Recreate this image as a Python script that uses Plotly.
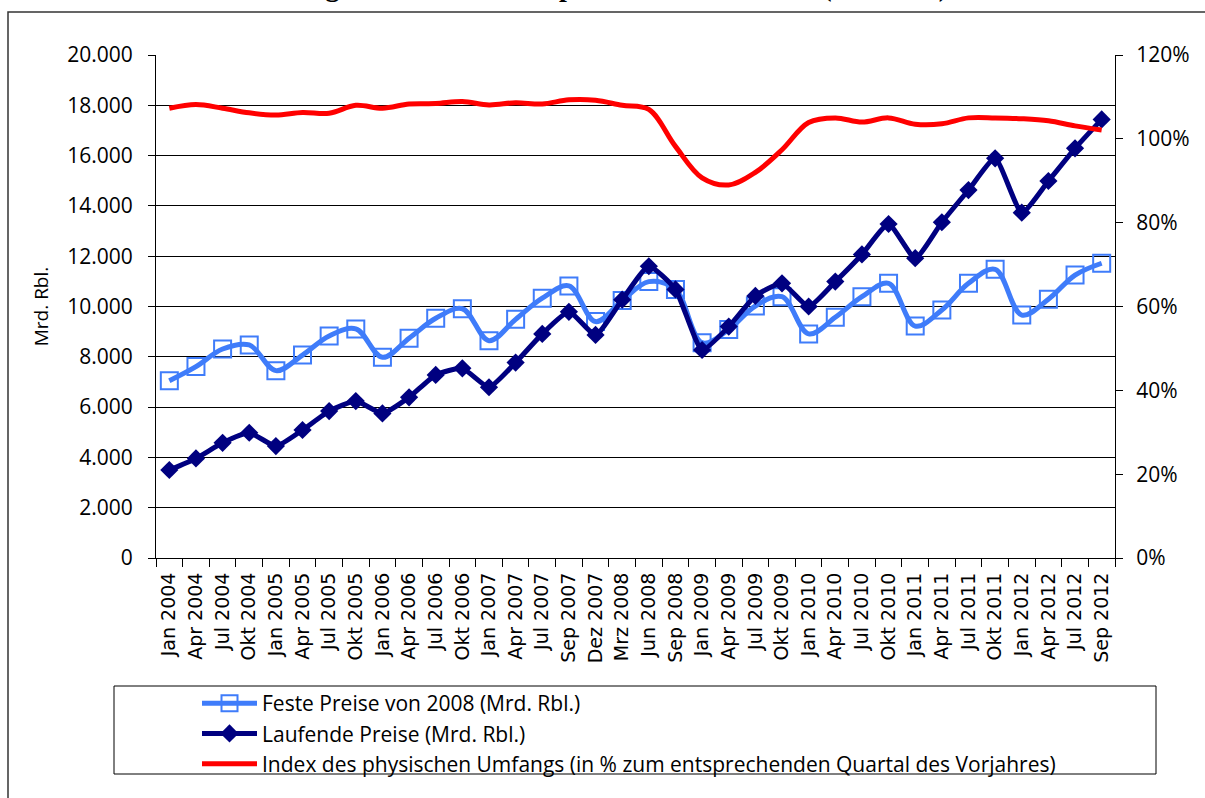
import plotly.graph_objects as go

categories = ["Jan 2004", "Apr 2004", "Jul 2004", "Okt 2004", "Jan 2005", "Apr 2005", "Jul 2005", "Okt 2005",
              "Jan 2006", "Apr 2006", "Jul 2006", "Okt 2006", "Jan 2007", "Apr 2007", "Jul 2007", "Sep 2007",
              "Dez 2007", "Mrz 2008", "Jun 2008", "Sep 2008", "Jan 2009", "Apr 2009", "Jul 2009", "Okt 2009",
              "Jan 2010", "Apr 2010", "Jul 2010", "Okt 2010", "Jan 2011", "Apr 2011", "Jul 2011", "Okt 2011",
              "Jan 2012", "Apr 2012", "Jul 2012", "Sep 2012"]

feste_preise = [7050, 7610, 8310, 8470, 7450, 8070, 8830, 9110, 7980, 8740, 9530, 9910, 8640, 9490, 10330, 10820,
                9400, 10240, 10990, 10680, 8560, 9090, 10020, 10390, 8910, 9570, 10390, 10920, 9220, 9860, 10920,
                11480, 9660, 10290, 11250, 11720]

laufende_preise = [3500, 3960, 4580, 4980, 4450, 5090, 5840, 6240, 5750, 6390, 7280, 7540, 6790, 7770, 8910, 9790,
                   8870, 10270, 11600, 10680, 8270, 9200, 10420, 10920, 10000, 10990, 12070, 13280, 11920, 13350,
                   14630, 15890, 13730, 14990, 16290, 17440]

index_umfang = [107.3, 108.2, 107.3, 106.2, 105.7, 106.3, 106.1, 108.0, 107.3, 108.3, 108.4, 108.9, 108.1, 108.6,
                108.3, 109.3, 109.2, 108.0, 107.0, 98.2, 90.7, 89.0, 92.0, 97.4, 103.9, 105.0, 104.0, 105.0, 103.5,
                103.6, 105.0, 105.0, 104.8, 104.3, 103.1, 102.1]

left_ticks = [0, 2000, 4000, 6000, 8000, 10000, 12000, 14000, 16000, 18000, 20000]
left_tick_text = ["0", "2.000", "4.000", "6.000", "8.000", "10.000", "12.000", "14.000", "16.000", "18.000", "20.000"]
right_ticks = [0, 20, 40, 60, 80, 100, 120]
right_tick_text = ["0%", "20%", "40%", "60%", "80%", "100%", "120%"]

names = ["Feste Preise von 2008 (Mrd. Rbl.)", "Laufende Preise (Mrd. Rbl.)",
         "Index des physischen Umfangs (in % zum entsprechenden Quartal des Vorjahres)"]
title_text = "Entwicklung des Bruttoinlandsprodukts in Russland (Quartale)"

W, H = 1205, 798
L, R, T, B = 156, 1115, 55, 558


def px(x):
    return (x - L) / (R - L)


def py(y):
    return (B - y) / (B - T)


fig = go.Figure()
fig.add_trace(go.Scatter(
    x=categories, y=feste_preise, name=names[0], mode="lines+markers", legendgroup="a",
    line=dict(color="#3F7CFA", width=5, shape="spline", smoothing=1),
    marker=dict(symbol="square-open", size=17, color="#3F7CFA", line=dict(width=2, color="#3F7CFA")),
))
fig.add_trace(go.Scatter(
    x=categories, y=laufende_preise, name=names[1], mode="lines+markers", legendgroup="b",
    line=dict(color="#000080", width=5, shape="spline", smoothing=0.5),
    marker=dict(symbol="diamond", size=14, color="#000080"),
))
fig.add_trace(go.Scatter(
    x=categories, y=index_umfang, name=names[2], mode="lines", yaxis="y2", legendgroup="c",
    line=dict(color="#FF0000", width=5, shape="spline", smoothing=1),
))

fig.update_layout(
    width=W, height=H,
    margin=dict(l=L, r=W - R, t=T, b=H - B, autoexpand=False),
    paper_bgcolor="white", plot_bgcolor="white",
    font=dict(family="Open Sans", color="black"),
    showlegend=True,
    legend=dict(x=px(197), y=py(683), xanchor="left", yanchor="top",
                font=dict(family="Open Sans", size=21, color="black"),
                bgcolor="rgba(0,0,0,0)", borderwidth=0,
                traceorder="grouped", tracegroupgap=0, itemwidth=55),
    xaxis=dict(type="category", range=[-0.5, len(categories) - 0.5], tickangle=-90, tickson="boundaries",
               ticks="outside", ticklen=8,
               tickcolor="black", tickfont=dict(family="DejaVu Sans", size=19, color="black"),
               ticklabelstandoff=6,
               showline=True, linecolor="black", linewidth=1, showgrid=False, automargin=False),
    yaxis=dict(range=[0, 20000], tickvals=left_ticks, ticktext=left_tick_text, showgrid=True,
               gridcolor="black", gridwidth=1, zeroline=False, showline=True, linecolor="black",
               linewidth=1, ticks="outside", ticklen=7, tickcolor="black", ticklabelstandoff=11,
               tickfont=dict(family="Open Sans", size=21, color="black"),
               title=dict(text="Mrd. Rbl.", font=dict(family="Open Sans", size=19, color="black"), standoff=13),
               automargin=False),
    yaxis2=dict(range=[0, 120], tickvals=right_ticks, ticktext=right_tick_text, overlaying="y", side="right",
                showgrid=False, zeroline=False, showline=True, linecolor="black", linewidth=1,
                ticks="outside", ticklen=7, tickcolor="black", ticklabelstandoff=9,
                tickfont=dict(family="Open Sans", size=21, color="black"), automargin=False),
    shapes=[
        dict(type="rect", xref="paper", yref="paper", x0=px(8), x1=px(1240), y0=py(830), y1=py(12),
             line=dict(color="#333333", width=1.5), fillcolor="rgba(0,0,0,0)", layer="below"),
        dict(type="rect", xref="paper", yref="paper", x0=px(114), x1=px(1156), y0=py(774), y1=py(686),
             line=dict(color="black", width=1), fillcolor="rgba(0,0,0,0)", layer="above"),
    ],
    annotations=[
        dict(text="<b>" + title_text + "</b>", xref="paper", yref="paper", x=px(185), y=py(4),
             xanchor="left", yanchor="bottom", showarrow=False,
             font=dict(family="Liberation Serif", size=28, color="black")),
    ],
)

fig.write_html("out.html", config={"displayModeBar": False},
               post_script="document.body.style.margin='0';document.body.style.overflow='hidden';")
